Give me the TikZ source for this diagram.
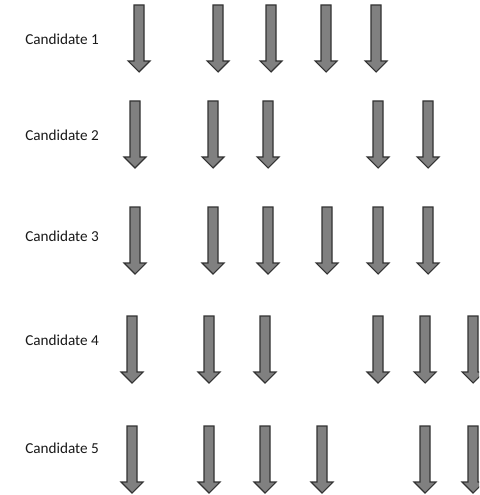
\documentclass[tikz,border=0pt]{standalone}
\usepackage{fontspec}
\setmainfont{Carlito}
\begin{document}
\begin{tikzpicture}[x=0.75pt,y=-0.75pt,
  lbl/.style={anchor=west,inner sep=0pt,font=\fontsize{11.4pt}{13pt}\selectfont,text=black!90},
  darrow/.pic={\draw[draw=black!80,fill=black!50,line width=0.8pt,line join=miter]
     (-5,0)--(5,0)--(5,56)--(11,56)--(0,67)--(-11,56)--(-5,56)--cycle;}]
\useasboundingbox (0,0) rectangle (479,495);
\clip (0,0) rectangle (479,495);
\node[lbl] (c1) at (25,39) {Candidate 1};
\node[lbl] (c2) at (25,135) {Candidate 2};
\node[lbl] (c3) at (25,236) {Candidate 3};
\node[lbl] (c4) at (25,340) {Candidate 4};
\node[lbl] (c5) at (25,448) {Candidate 5};
\foreach \x in {139,218,271,326,376} \pic at (\x,5) {darrow};
\foreach \x in {135,213,268,378,428} \pic at (\x,101) {darrow};
\foreach \x in {135,213,268,327,378,428} \pic at (\x,207) {darrow};
\foreach \x in {132,209,265,378,425,473} \pic at (\x,316) {darrow};
\foreach \x in {132,209,265,322,425,473} \pic at (\x,426) {darrow};
\end{tikzpicture}
\end{document}
